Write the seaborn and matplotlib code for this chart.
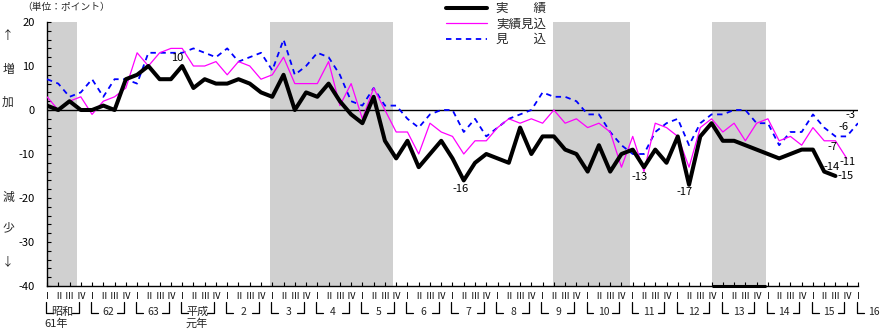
import numpy as np
import pandas as pd
import matplotlib
matplotlib.use("Agg")
import matplotlib.pyplot as plt
import matplotlib.transforms as mtransforms
from matplotlib.lines import Line2D
import seaborn as sns

# Quarterly survey index, 1986 Q1 (昭和61年 Ⅰ) onward, one value per quarter
actual = [1, 0, 2, 0, 0, 1, 0, 7, 8, 10, 7, 7, 10, 5, 7, 6, 6, 7, 6, 4,
          3, 8, 0, 4, 3, 6, 2, -1, -3, 3, -7, -11, -7, -13, -10, -7, -11, -16, -12, -10,
          -11, -12, -4, -10, -6, -6, -9, -10, -14, -8, -14, -10, -9, -13, -9, -12, -6, -17, -6, -3,
          -7, -7, -8, -9, -10, -11, -10, -9, -9, -14, -15]
estimate = [3, 0, 2, 3, -1, 2, 3, 5, 13, 10, 13, 14, 14, 10, 10, 11, 8, 11, 10, 7,
            8, 12, 6, 6, 6, 11, 1, 6, -2, 5, 0, -5, -5, -10, -3, -5, -6, -10, -7, -7,
            -4, -2, -3, -2, -3, 0, -3, -2, -4, -3, -5, -13, -6, -14, -3, -4, -6, -13, -4, -2,
            -5, -3, -7, -3, -2, -7, -6, -8, -4, -7, -7, -11]
forecast = [7, 6, 3, 4, 7, 3, 7, 7, 6, 13, 13, 13, 13, 14, 13, 12, 14, 11, 12, 13,
            9, 16, 8, 10, 13, 12, 8, 2, 1, 5, 1, 1, -2, -4, -1, 0, 0, -5, -2, -6,
            -4, -2, -1, 0, 4, 3, 3, 2, -1, -1, -5, -8, -10, -10, -5, -3, -2, -8, -3, -1,
            -1, 0, 0, -3, -3, -8, -5, -5, -1, -4, -6, -6, -3]

series_names = ["実　　績", "実績見込", "見　　込"]
quarter_labels = ["Ⅰ", "Ⅱ", "Ⅲ", "Ⅳ"]
year_labels = ["昭和", "62", "63", "平成", "2", "3", "4", "5", "6", "7", "8",
               "9", "10", "11", "12", "13", "14", "15", "16"]
year_sublabels = {"昭和": "61年", "平成": "元年"}
# Recession periods, in quarters from 1986 Q1
recessions = [(0.0, 2.67), (19.8, 30.76), (44.9, 51.8), (59.0, 63.8)]

# Value callouts: (series, quarter index, offset in points)
callouts = [
    ("actual", 12, (-3.5, 6)), ("actual", 37, (-2.5, -6.5)), ("actual", 53, (-3, -7)),
    ("actual", 57, (-3, -5)), ("actual", 69, (5, 3.5)), ("actual", 70, (7.5, 0)),
    ("estimate", 70, (-2.5, -4.5)), ("estimate", 71, (0.5, -2.5)),
    ("forecast", 71, (-2.5, 6.5)), ("forecast", 72, (-5.5, 6)),
]

frames = []
for name, vals in [("actual", actual), ("estimate", estimate), ("forecast", forecast)]:
    frames.append(pd.DataFrame({"q": np.arange(len(vals)), "value": vals, "series": name}))
df = pd.concat(frames, ignore_index=True)

sns.set_theme(style="white")
plt.rcParams["font.family"] = ["Noto Sans CJK JP", "DejaVu Sans"]
plt.rcParams["axes.unicode_minus"] = False

W, H = 881, 329
fig = plt.figure(figsize=(W / 100, H / 100), dpi=100)
ax = fig.add_axes([47 / W, 1 - 286 / H, (858 - 47) / W, (286 - 22) / H])

for a, b in recessions:
    ax.axvspan(a, b, color="#d0d0d0", lw=0, zorder=0)
# heavy base under the latest recession band
a, b = recessions[-1]
ax.hlines(-40, a, b, color="black", lw=2.2, zorder=5, clip_on=False)

ax.axhline(0, color="black", lw=1.0, zorder=1)

styles = {
    "forecast": dict(color="#0000ff", lw=1.3, linestyle=(0, (3, 2.5))),
    "estimate": dict(color="#ff00ff", lw=0.9, linestyle="-"),
    "actual": dict(color="black", lw=2.9, linestyle="-"),
}
for name in ["forecast", "estimate", "actual"]:
    sub = df[df["series"] == name]
    sns.lineplot(data=sub, x="q", y="value", ax=ax, estimator=None, legend=False,
                 zorder=3, **styles[name])

lookup = {"actual": actual, "estimate": estimate, "forecast": forecast}
for name, i, off in callouts:
    v = lookup[name][i]
    ax.annotate(f"{v}", (i, v), xytext=off, textcoords="offset points",
                ha="center", va="center", fontsize=8, color="black", zorder=6)

ax.set_xlim(0, 72)
ax.set_ylim(-40, 20)
ax.set_xlabel("")
ax.set_ylabel("")
ax.set_yticks(range(-40, 21, 10))
ax.set_yticks(range(-40, 21, 2), minor=True)
ax.tick_params(axis="y", which="both", direction="in", length=3, width=0.8,
               left=True, labelsize=8, pad=9, colors="black")
nq = len(forecast)
ax.set_xticks(range(nq))
ax.set_xticklabels([quarter_labels[i % 4] for i in range(nq)])
ax.tick_params(axis="x", direction="in", length=3, width=0.8, bottom=True,
               labelsize=6.5, pad=4, colors="black")
for s in ["top", "right"]:
    ax.spines[s].set_visible(False)
for s in ["left", "bottom"]:
    ax.spines[s].set_color("black")
    ax.spines[s].set_linewidth(1.0)

# Legend
handles = [Line2D([], [], **styles[k]) for k in ["actual", "estimate", "forecast"]]
fig.legend(handles, series_names, loc="upper left", bbox_to_anchor=(446 / W, 1 - 2 / H),
           frameon=False, fontsize=9, handlelength=3.3, handletextpad=0.7,
           labelspacing=0.2, borderpad=0, borderaxespad=0)

# Year brackets under the quarter labels
trans = mtransforms.blended_transform_factory(ax.transData, fig.transFigure)
y_top, y_bot = 1 - 302 / H, 1 - 313 / H
for k, lab in enumerate(year_labels):
    q0 = 4 * k
    left, right = q0 - 0.1, q0 + 2.8
    fig.add_artist(Line2D([left, left, left + 0.6], [y_top, y_bot, y_bot],
                          transform=trans, color="black", lw=0.9))
    if k < len(year_labels) - 1:
        fig.add_artist(Line2D([right - 0.6, right, right], [y_bot, y_bot, y_top],
                              transform=trans, color="black", lw=0.9))
    fs = 8 if lab in year_sublabels else 7.5
    fig.text(q0 + 1.4, 1 - 315 / H, lab, transform=trans, ha="center",
             va="baseline", fontsize=fs)
    if lab in year_sublabels:
        fig.text(q0 + 1.3 if k else 0.8, 1 - 327 / H, year_sublabels[lab],
                 transform=trans, ha="center", va="baseline", fontsize=8)

fig.text(22 / W, 1 - 7 / H, "（単位：ポイント）", ha="left", va="center", fontsize=7)
for ch, ypx in [("↑", 36), ("増", 69), ("加", 102), ("減", 197), ("少", 228), ("↓", 262)]:
    fig.text(8 / W, 1 - ypx / H, ch, ha="center", va="center", fontsize=8.5)

fig.savefig("out.png", dpi=100)
